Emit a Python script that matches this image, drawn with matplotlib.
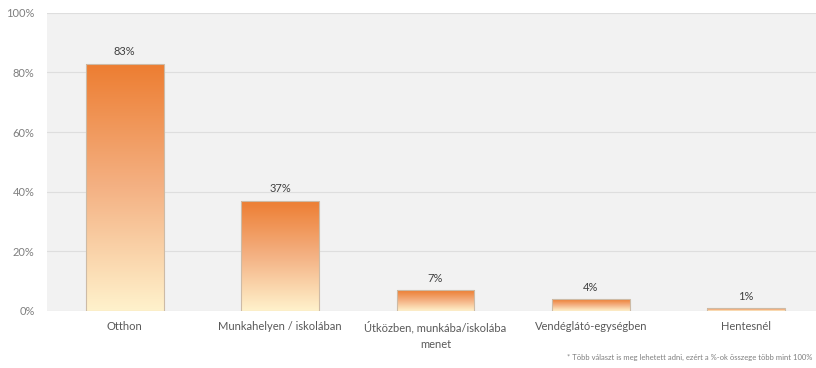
import numpy as np
import matplotlib
matplotlib.use('Agg')
import matplotlib.pyplot as plt
from matplotlib.colors import LinearSegmentedColormap
from matplotlib.ticker import PercentFormatter

# Where people eat (multiple answers allowed)
categories = ['Otthon', 'Munkahelyen / iskolában', 'Útközben, munkába/iskolába\nmenet',
              'Vendéglátó-egységben', 'Hentesnél']
values = [83, 37, 7, 4, 1]
value_labels = ['83%', '37%', '7%', '4%', '1%']
yticks = [0, 20, 40, 60, 80, 100]
footnote = '* Több választ is meg lehetett adni, ezért a %-ok összege több mint 100%'

plt.rcParams['font.family'] = ['Lato', 'DejaVu Sans']

fig = plt.figure(figsize=(8.16, 3.68), dpi=100)
ax = fig.add_axes([0.0576, 0.155, 0.9424, 0.81])
ax.set_facecolor('#f2f2f2')

# orange at the top, pale yellow at the bottom of every bar
cmap = LinearSegmentedColormap.from_list('bar', ['#fff2cc', '#f4b183', '#ed7d31'])
grad = np.linspace(0, 1, 256).reshape(-1, 1)

x = np.arange(len(categories))
width = 0.5
bars = ax.bar(x, values, width=width, color='none', edgecolor='#cdbba6',
              linewidth=0.8, zorder=3)
for b, lab in zip(bars, value_labels):
    x0, h = b.get_x(), b.get_height()
    im = ax.imshow(grad, cmap=cmap, aspect='auto', origin='lower',
                   extent=[x0, x0 + b.get_width(), 0, h], zorder=2)
    im.set_clip_path(b)
    ax.annotate(lab, (x0 + b.get_width() / 2, h), xytext=(0, 4.5),
                textcoords='offset points', ha='center', va='bottom',
                fontsize=8, color='#404040')

ax.set_xlim(-0.5, 4.45)
ax.set_ylim(0, 100)
ax.set_yticks(yticks)
ax.yaxis.set_major_formatter(PercentFormatter(decimals=0))
ax.set_xticks(x)
ax.set_xticklabels(categories, linespacing=1.6)
ax.grid(axis='y', color='#dedede', linewidth=0.8, zorder=0)
ax.set_axisbelow(True)
for s in ax.spines.values():
    s.set_visible(False)
ax.tick_params(axis='both', length=0, labelsize=8)
ax.tick_params(axis='y', pad=9, labelcolor='#7f7f7f')
ax.tick_params(axis='x', pad=7, labelcolor='#595959')

fig.text(0.995, 0.02, footnote, ha='right', va='bottom', fontsize=5.5, color='#7f7f7f')

fig.savefig('out.png', dpi=100)
